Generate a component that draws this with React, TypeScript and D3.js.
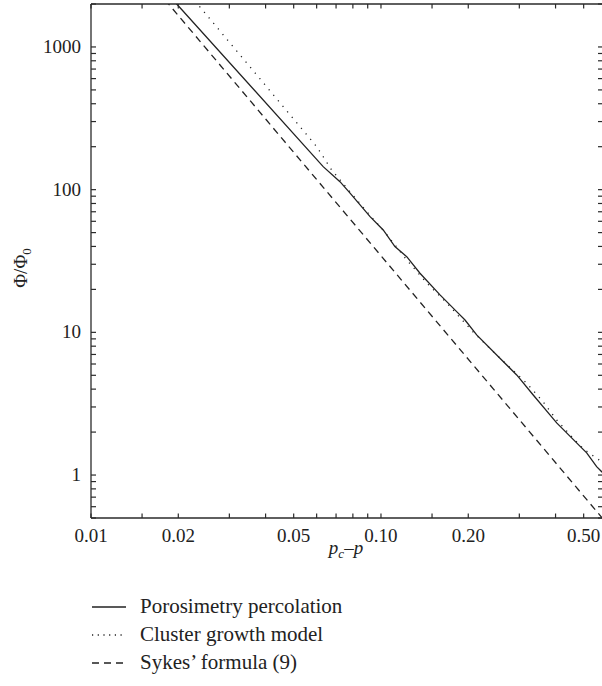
import React from "react";
import * as d3 from "d3";

const xTicks = [0.01, 0.015, 0.02, 0.03, 0.04, 0.05, 0.06, 0.07, 0.08, 0.09, 0.1, 0.15, 0.2, 0.3, 0.4, 0.5];
const xLabels = [0.01, 0.02, 0.05, 0.1, 0.2, 0.5];
const yLabels = [1, 10, 100, 1000];

// Porosimetry percolation (solid)
const solidX = [0.019, 0.01975, 0.0632, 0.0722, 0.0781, 0.0917, 0.1018, 0.1117, 0.1227, 0.1363, 0.1598, 0.1842, 0.1949, 0.2138, 0.2572, 0.2938, 0.335, 0.3826, 0.4036, 0.4729, 0.5122, 0.5543, 0.5768, 0.59];
const solidY = [2200, 2001, 145, 113.8, 94.9, 64.7, 52.2, 39.9, 33.9, 25.96, 18.3, 13.7, 12.2, 9.59, 6.58, 5.03, 3.64, 2.64, 2.32, 1.68, 1.43, 1.145, 1.056, 1.0];

// Cluster growth model (dotted)
const dotX = [0.0228, 0.02344, 0.06002, 0.0676, 0.0781, 0.0893, 0.1018, 0.1227, 0.1438, 0.1685, 0.2075, 0.2506, 0.318, 0.362, 0.4036, 0.459, 0.5, 0.578, 0.59];
const dotY = [2100, 1968, 200.1, 137.4, 96.8, 70.1, 52.0, 32.2, 22.2, 16.07, 10.1, 6.94, 4.4, 3.27, 2.43, 1.82, 1.52, 1.235, 1.19];

// Sykes' formula (9) (dashed)
const sykesX = [0.018, 0.6];
const sykesY = [2140, 0.46];

const legendItems = ["Porosimetry percolation", "Cluster growth model", "Sykes\u2019 formula (9)"];
const legendDash = ["none", "1.2,4.5", "7,5"];

const W = 602, H = 686;
const L = 91, T = 4, R = 603, B = 518;

export default function App() {
  const x = d3.scaleLog().domain([0.01, 0.583]).range([L, R]);
  const y = d3.scaleLog().domain([0.5, 2000]).range([B, T]);

  const yTicks: number[] = [];
  for (let e = -1; e <= 3; e++) {
    for (let m = 1; m <= 9; m++) {
      const v = m * Math.pow(10, e);
      if (v >= 0.5 && v <= 2000) yTicks.push(+v.toPrecision(3));
    }
  }

  const line = d3
    .line<[number, number]>()
    .x((d) => x(d[0]))
    .y((d) => y(d[1]));

  const solid = line(solidX.map((v, i) => [v, solidY[i]] as [number, number])) || "";
  const dotted = line(dotX.map((v, i) => [v, dotY[i]] as [number, number])) || "";
  const sykes = line(sykesX.map((v, i) => [v, sykesY[i]] as [number, number])) || "";

  const fmtX = (v: number) => v.toFixed(2);
  const axisColor = "#2a2a2a";
  const font = "'Liberation Serif', 'Times New Roman', serif";

  return (
    <svg
      width={W}
      height={H}
      style={{ position: "absolute", left: 0, top: 0, background: "#fff" }}
      fontFamily={font}
    >
      <defs>
        <clipPath id="plotclip">
          <rect x={L} y={T} width={R - L} height={B - T} />
        </clipPath>
      </defs>
      <rect x={0} y={0} width={W} height={H} fill="#fff" />

      {/* data lines */}
      <g clipPath="url(#plotclip)" fill="none" stroke="#222">
        <path d={sykes} strokeWidth={1.3} strokeDasharray="7,5" />
        <path d={dotted} strokeWidth={1.3} strokeDasharray="1.2,6" />
        <path d={solid} strokeWidth={1.3} />
      </g>

      {/* frame */}
      <g stroke={axisColor} strokeWidth={1.3} fill="none">
        <line x1={L} x2={L} y1={T} y2={B} />
        <line x1={L} x2={R} y1={B} y2={B} />
        <line x1={L} x2={R} y1={T} y2={T} />
        <line x1={R} x2={R} y1={T} y2={B} />
      </g>

      {/* ticks */}
      <g stroke={axisColor} strokeWidth={1.2}>
        {xTicks.map((t) => (
          <g key={"xt" + t}>
            <line x1={x(t)} x2={x(t)} y1={B} y2={B - 4.5} />
            <line x1={x(t)} x2={x(t)} y1={T} y2={T + 4.5} />
          </g>
        ))}
        {yTicks.map((t) => (
          <g key={"yt" + t}>
            <line x1={L} x2={L + 5} y1={y(t)} y2={y(t)} />
            <line x1={R} x2={R - 5} y1={y(t)} y2={y(t)} />
          </g>
        ))}
      </g>

      {/* tick labels */}
      <g fill="#222" fontSize={19}>
        {xLabels.map((t) => (
          <text key={"xl" + t} x={x(t)} y={B + 24} textAnchor="middle">
            {fmtX(t)}
          </text>
        ))}
        {yLabels.map((t) => (
          <text key={"yl" + t} x={L - 10} y={y(t) + 6} textAnchor="end">
            {t}
          </text>
        ))}
      </g>

      {/* axis titles */}
      <text x={346} y={554} fontSize={19} fill="#222" textAnchor="middle">
        <tspan fontStyle="italic">p</tspan>
        <tspan fontStyle="italic" fontSize={13} dy={4}>c</tspan>
        <tspan dy={-4}>{"\u2013"}</tspan>
        <tspan fontStyle="italic">p</tspan>
      </text>
      <text
        transform={`translate(27, ${268}) rotate(-90)`}
        fontSize={19}
        fill="#222"
        textAnchor="middle"
      >
        <tspan>{"\u03A6/\u03A6"}</tspan>
        <tspan fontSize={13} dy={4}>0</tspan>
      </text>

      {/* legend */}
      <g>
        {legendItems.map((name, i) => {
          const cy = 607 + i * 28;
          return (
            <g key={name}>
              <line
                x1={92}
                x2={126}
                y1={cy}
                y2={cy}
                stroke="#222"
                strokeWidth={1.3}
                strokeDasharray={legendDash[i] === "none" ? undefined : legendDash[i]}
              />
              <text x={140} y={cy + 6} fontSize={21} fill="#222">
                {name}
              </text>
            </g>
          );
        })}
      </g>
    </svg>
  );
}
